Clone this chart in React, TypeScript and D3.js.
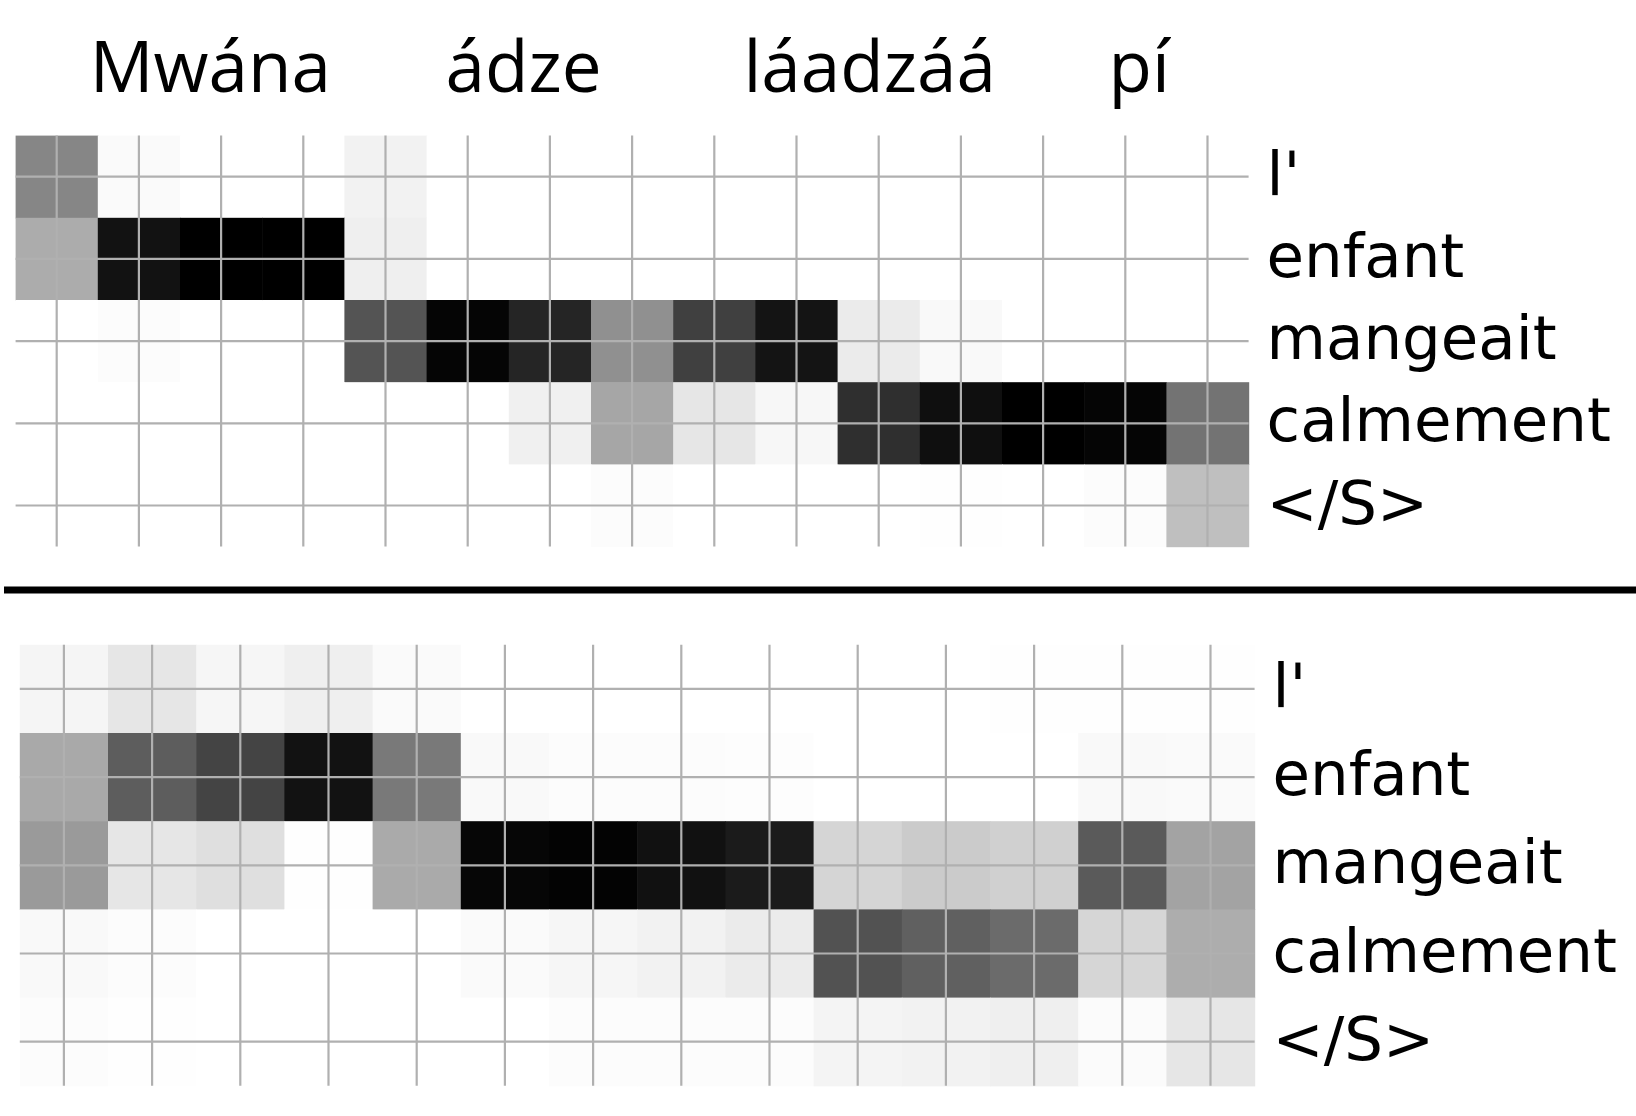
import React from 'react';
import * as d3 from 'd3';

// source words shown above the top matrix, and where they sit (in column units)
const topWords = ['Mwána', 'ádze', 'láadzáá', 'pí'];
const topWordCols = [2.37, 6.18, 10.39, 13.67];

const rowLabels = ["l'", 'enfant', 'mangeait', 'calmement', '</S>'];

// top attention matrix, 15 source columns
const topL = [0.475, 0.02, 0, 0, 0.05, 0, 0, 0, 0, 0, 0, 0, 0, 0, 0];
const topEnfant = [0.325, 0.93, 1.0, 1.0, 0.063, 0, 0, 0, 0, 0, 0, 0, 0, 0, 0];
const topMangeait = [0, 0.01, 0, 0, 0.67, 0.98, 0.855, 0.435, 0.75, 0.92, 0.08, 0.025, 0, 0, 0];
const topCalmement = [0, 0, 0, 0, 0, 0, 0.06, 0.35, 0.1, 0.03, 0.815, 0.94, 1.0, 0.98, 0.55];
const topEnd = [0, 0, 0, 0, 0, 0, 0, 0.01, 0, 0, 0, 0.005, 0, 0.01, 0.25];

// bottom attention matrix, 14 source columns
const botL = [0.04, 0.1, 0.035, 0.063, 0.02, 0, 0, 0, 0, 0, 0, 0.005, 0.005, 0.005];
const botEnfant = [0.337, 0.635, 0.733, 0.93, 0.525, 0.025, 0.01, 0.012, 0.008, 0, 0, 0, 0.025, 0.02];
const botMangeait = [0.396, 0.1, 0.125, 0.005, 0.333, 0.976, 0.99, 0.933, 0.894, 0.165, 0.204, 0.184, 0.647, 0.36];
const botCalmement = [0.024, 0.01, 0, 0, 0, 0.02, 0.035, 0.05, 0.078, 0.678, 0.624, 0.58, 0.16, 0.32];
const botEnd = [0.01, 0.005, 0, 0, 0, 0, 0.01, 0.012, 0.01, 0.043, 0.05, 0.063, 0.016, 0.098];

const W = 1636;
const H = 1116;

const grey = d3.scaleLinear<string>().domain([0, 1]).range(['#ffffff', '#000000']);

type HeatProps = {
  rows: number[][];
  labels: string[];
  left: number;
  right: number;
  top: number;
  bottom: number;
  labelGap: number;
};

const Heatmap = ({ rows, labels, left, right, top, bottom, labelGap }: HeatProps) => {
  const nCols = rows[0].length;
  const x = d3.scaleBand<number>().domain(d3.range(nCols)).range([left, right]).padding(0);
  const y = d3.scaleBand<number>().domain(d3.range(rows.length)).range([top, bottom]).padding(0);
  const bw = x.bandwidth();
  const bh = y.bandwidth();

  return (
    <g>
      {rows.map((row, i) =>
        row.map((v, j) => (
          <rect
            key={`c${i}-${j}`}
            x={x(j)}
            y={y(i)}
            width={bw + 0.6}
            height={bh + 0.6}
            fill={grey(v)}
          />
        ))
      )}
      {/* grid through the cell centres */}
      {d3.range(nCols).map(j => (
        <line
          key={`v${j}`}
          x1={x(j)! + bw / 2}
          x2={x(j)! + bw / 2}
          y1={top}
          y2={bottom}
          stroke="#b0b0b0"
          strokeWidth={2.2}
        />
      ))}
      {rows.map((_, i) => (
        <line
          key={`h${i}`}
          x1={left}
          x2={right}
          y1={y(i)! + bh / 2}
          y2={y(i)! + bh / 2}
          stroke="#b0b0b0"
          strokeWidth={2.2}
        />
      ))}
      {labels.map((lab, i) => (
        <text
          key={`l${i}`}
          x={right + labelGap}
          y={y(i)! + bh / 2 + 18}
          fontFamily="'DejaVu Sans', sans-serif"
          fontSize={61}
          fill="#000"
        >
          {lab}
        </text>
      ))}
    </g>
  );
};

const App = () => {
  const topRows = [topL, topEnfant, topMangeait, topCalmement, topEnd];
  const botRows = [botL, botEnfant, botMangeait, botCalmement, botEnd];

  const topLeft = 15.6;
  const topRight = 1248.6;
  const xWord = d3.scaleLinear().domain([0, topRows[0].length]).range([topLeft, topRight]);

  return (
    <svg
      width={W}
      height={H}
      style={{ position: 'absolute', left: 0, top: 0, background: '#fff' }}
    >
      <rect x={0} y={0} width={W} height={H} fill="#fff" />
      {topWords.map((w, i) => (
        <text
          key={w}
          x={xWord(topWordCols[i])}
          y={92}
          textAnchor="middle"
          fontFamily="'Open Sans', Lato, sans-serif"
          fontSize={71}
          fill="#000"
        >
          {w}
        </text>
      ))}
      <Heatmap
        rows={topRows}
        labels={rowLabels}
        left={topLeft}
        right={topRight}
        top={135.6}
        bottom={546.6}
        labelGap={18}
      />
      <line x1={4} x2={W} y1={590} y2={590} stroke="#000" strokeWidth={7} />
      <Heatmap
        rows={botRows}
        labels={rowLabels}
        left={19.8}
        right={1254.6}
        top={644.8}
        bottom={1085.8}
        labelGap={18}
      />
    </svg>
  );
};

export default App;
